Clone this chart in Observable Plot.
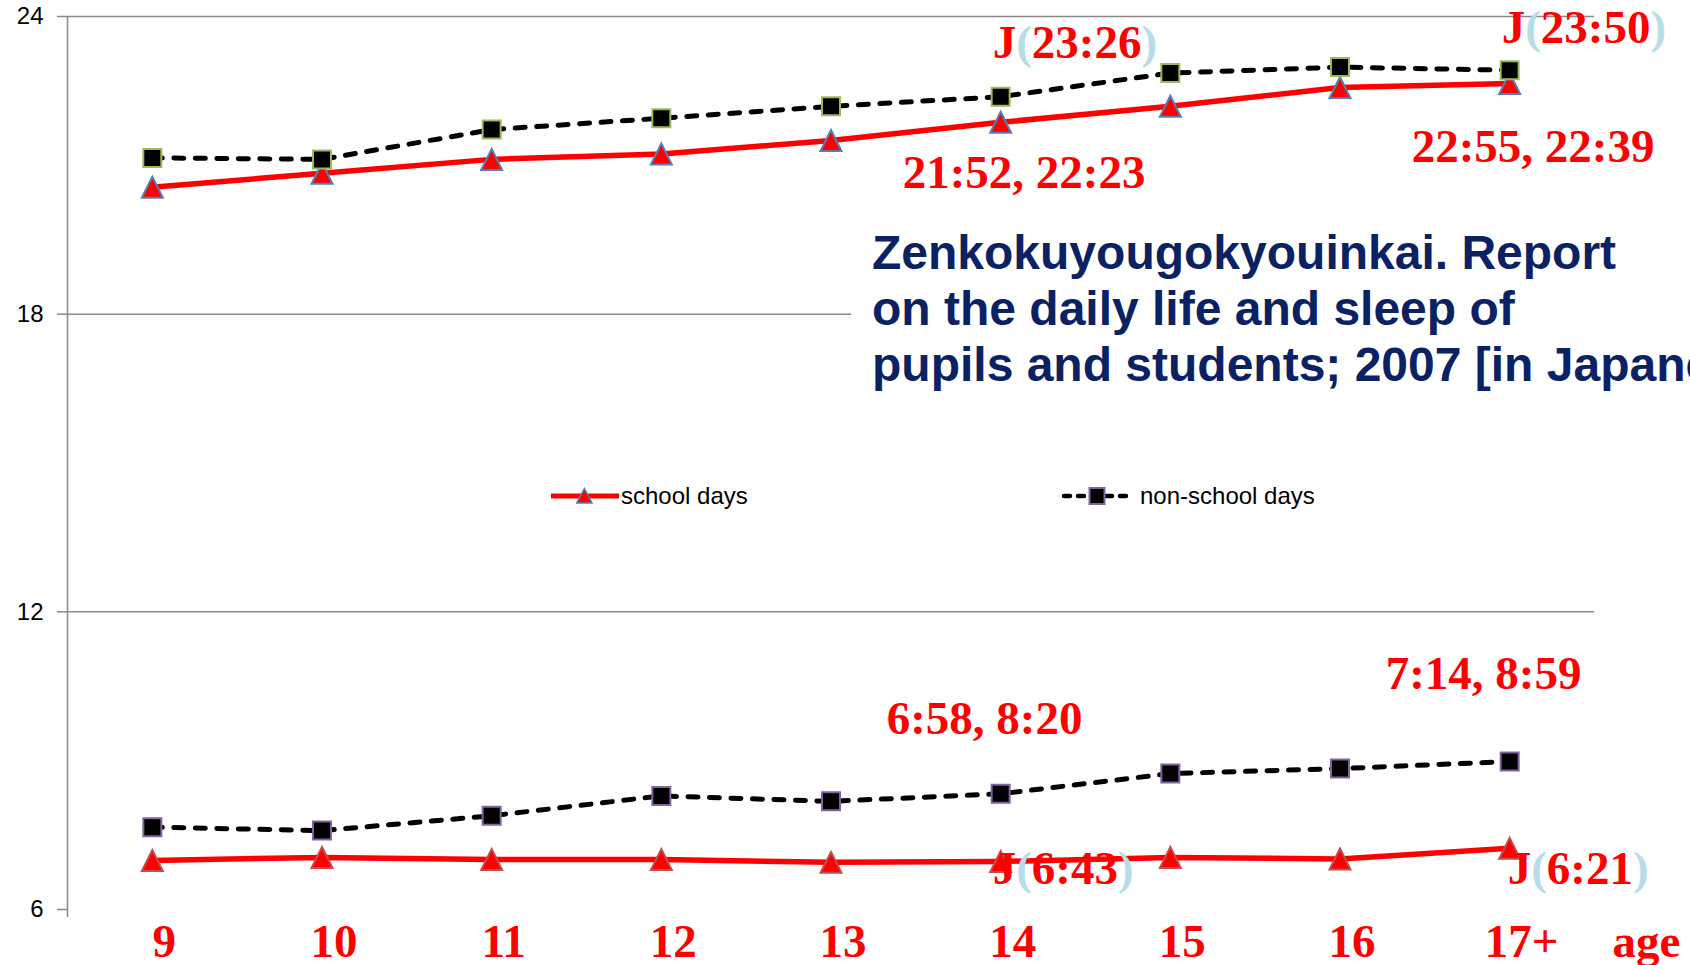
<!DOCTYPE html>
<html>
<head>
<meta charset="utf-8">
<script src="https://cdn.jsdelivr.net/npm/d3@7"></script>
<script src="https://cdn.jsdelivr.net/npm/@observablehq/plot@0.6"></script>
<style>
  html, body { margin: 0; padding: 0; background: #fff; overflow: hidden; }
  #wrap { position: relative; width: 1690px; height: 965px; overflow: hidden; background: #fff; }
  #cite {
    position: absolute; left: 851px; top: 225px; width: 839px; height: 175px;
    background: #fff; padding-left: 21px; box-sizing: border-box;
    font-family: "Liberation Sans", Arial, sans-serif; font-weight: bold;
    font-size: 48px; line-height: 56px; color: #0a2163; white-space: nowrap; overflow: hidden;
  }
  #legend { position: absolute; left: 0; top: 0; pointer-events: none; }
</style>
</head>
<body>
<div id="wrap"></div>
<script>
// ---- data ----
const ages = ["9", "10", "11", "12", "13", "14", "15", "16", "17+"];
const yTicks = [6, 12, 18, 24];
const schoolBedtime    = [20.56, 20.84, 21.12, 21.23, 21.50, 21.867, 22.19, 22.57, 22.65];
const nonSchoolBedtime = [21.15, 21.12, 21.72, 21.95, 22.19, 22.383, 22.86, 22.98, 22.917];
const schoolWake       = [6.99, 7.05, 7.01, 7.01, 6.95, 6.967, 7.05, 7.02, 7.233];
const nonSchoolWake    = [7.66, 7.59, 7.89, 8.29, 8.18, 8.333, 8.74, 8.84, 8.983];
const legendLabels = ["school days", "non-school days"];
const axisTitle = "age";
const citation = ["Zenkokuyougokyouinkai. Report", "on the daily life and sleep of", "pupils and students; 2007 [in Japanese]"];
const notes = {
  top14: "J(23:26)", top17: "J(23:50)",
  bed14: "21:52, 22:23", bed17: "22:55, 22:39",
  wake14: "6:58, 8:20", wake17: "7:14, 8:59",
  bottom14: "J(6:43)", bottom17: "J(6:21)"
};

// ---- styles ----
const RED = "#ff0000";
const PAREN = "#b7dde8";
const GRID = "#898989";
const BLUE_EDGE = "#4f81bd";
const RED_EDGE = "#c0504d";
const GREEN_EDGE = "#9bbb59";
const PURPLE_EDGE = "#8064a2";
const SERIF = "'Liberation Serif', 'Times New Roman', serif";
const SANS = "'Liberation Sans', Arial, sans-serif";

const tri = { draw(ctx, size) { const r = Math.sqrt(size / Math.PI); ctx.moveTo(0, -r); ctx.lineTo(r, r); ctx.lineTo(-r, r); ctx.closePath(); } };
const sq = { draw(ctx, size) { const r = Math.sqrt(size / Math.PI); ctx.rect(-r, -r, 2 * r, 2 * r); } };

const idx = (d, i) => i;
const xDomain = [-0.5, ages.length - 0.5];
const i14 = ages.indexOf("14"), i17 = ages.indexOf("17+");

const NOTE = { fontFamily: SERIF, fontWeight: "bold", fontSize: 47, fill: RED, textAnchor: "start", lineAnchor: "bottom" };

function series(values, dashed, edge) {
  const lineOpts = dashed
    ? { stroke: "#000", strokeWidth: 5, strokeDasharray: "10,11.5", strokeLinecap: "round" }
    : { stroke: RED, strokeWidth: 5.5 };
  const dotOpts = dashed
    ? { symbol: sq, r: 9, fill: "#000", stroke: edge, strokeWidth: 2 }
    : { symbol: tri, r: 10.5, fill: RED, stroke: edge, strokeWidth: 2 };
  return [
    Plot.line(ages, { x: idx, y: values, ...lineOpts }),
    Plot.dot(ages, { x: idx, y: values, ...dotOpts })
  ];
}

const plot = Plot.plot({
  width: 1690,
  height: 965,
  marginLeft: 67,
  marginRight: 96,
  marginTop: 16,
  marginBottom: 56,
  style: { fontFamily: SANS, background: "#fff", overflow: "visible" },
  x: { domain: xDomain, axis: null },
  y: { domain: [6, 24] },
  marks: [
    Plot.ruleY(yTicks.filter(v => v > yTicks[0]), { stroke: GRID, strokeWidth: 1.5 }),
    Plot.axisY(yTicks, { anchor: "left", label: null, tickSize: 10, tickFormat: () => "", stroke: GRID, strokeWidth: 1.5 }),
    Plot.text(yTicks, { y: d => d, frameAnchor: "left", dx: -24, textAnchor: "end", fontSize: 24, fontFamily: SANS, fill: "#000" }),
    Plot.ruleX([xDomain[0]], { stroke: GRID, strokeWidth: 1.5, insetBottom: -8 }),
    ...series(schoolBedtime, false, BLUE_EDGE),
    ...series(schoolWake, false, RED_EDGE),
    ...series(nonSchoolBedtime, true, GREEN_EDGE),
    ...series(nonSchoolWake, true, PURPLE_EDGE),
    // category labels
    Plot.text(ages, { x: idx, frameAnchor: "bottom", dx: 12, dy: 47, lineAnchor: "bottom", fontFamily: SERIF, fontWeight: "bold", fontSize: 47, fill: RED }),
    Plot.text([axisTitle], { frameAnchor: "bottom-right", dx: 18, dy: 47, textAnchor: "start", lineAnchor: "bottom", fontFamily: SERIF, fontWeight: "bold", fontSize: 47, fill: RED }),
    // annotations
    Plot.text([notes.top14], { x: [i14], frameAnchor: "top", dx: -8, dy: 41, ...NOTE }),
    Plot.text([notes.top17], { x: [i17], frameAnchor: "top", dx: -8, dy: 26, ...NOTE }),
    Plot.text([notes.bed14], { x: [i14], y: [schoolBedtime[i14]], dx: -98, dy: 66, ...NOTE }),
    Plot.text([notes.bed17], { x: [i17], y: [schoolBedtime[i17]], dx: -98, dy: 79, ...NOTE }),
    Plot.text([notes.wake14], { x: [i14], y: [nonSchoolWake[i14]], dx: -114, dy: -60, ...NOTE }),
    Plot.text([notes.wake17], { x: [i17], y: [nonSchoolWake[i17]], dx: -124, dy: -73, ...NOTE }),
    Plot.text([notes.bottom14], { x: [i14], frameAnchor: "bottom", dx: -8, dy: -26, ...NOTE }),
    Plot.text([notes.bottom17], { x: [i17], frameAnchor: "bottom", dx: -2, dy: -26, ...NOTE })
  ]
});

// colour the parentheses of the J(...) notes
d3.select(plot).selectAll("text").each(function () {
  if (this.querySelector("tspan")) return;
  const m = /^J\((.*)\)$/.exec(this.textContent);
  if (!m) return;
  const s = d3.select(this);
  s.text("");
  s.append("tspan").attr("fill", RED).text("J");
  s.append("tspan").attr("fill", PAREN).text("(");
  s.append("tspan").attr("fill", RED).text(m[1]);
  s.append("tspan").attr("fill", PAREN).text(")");
});

const wrap = document.getElementById("wrap");
wrap.appendChild(plot);

// citation box
const cite = document.createElement("div");
cite.id = "cite";
cite.innerHTML = citation.map(t => `<div>${t}</div>`).join("");
wrap.appendChild(cite);

// legend overlay
const lg = d3.select(wrap).append("svg").attr("id", "legend").attr("width", 1690).attr("height", 965);
const g1 = lg.append("g");
g1.append("line").attr("x1", 551).attr("x2", 619).attr("y1", 496).attr("y2", 496).attr("stroke", RED).attr("stroke-width", 5);
g1.append("path").attr("d", "M584.4,488.5L592,503L576.8,503Z").attr("fill", RED).attr("stroke", BLUE_EDGE).attr("stroke-width", 1.5);
g1.append("text").attr("x", 621).attr("y", 504).attr("font-family", SANS).attr("font-size", 24).attr("fill", "#000").text(legendLabels[0]);
const g2 = lg.append("g");
g2.append("line").attr("x1", 1064).attr("x2", 1133).attr("y1", 496).attr("y2", 496).attr("stroke", "#000").attr("stroke-width", 4.5).attr("stroke-dasharray", "6,8").attr("stroke-linecap", "round");
g2.append("rect").attr("x", 1089.5).attr("y", 488).attr("width", 15).attr("height", 16).attr("fill", "#000").attr("stroke", PURPLE_EDGE).attr("stroke-width", 2);
g2.append("text").attr("x", 1140).attr("y", 504).attr("font-family", SANS).attr("font-size", 24).attr("fill", "#000").text(legendLabels[1]);
</script>
</body>
</html>
